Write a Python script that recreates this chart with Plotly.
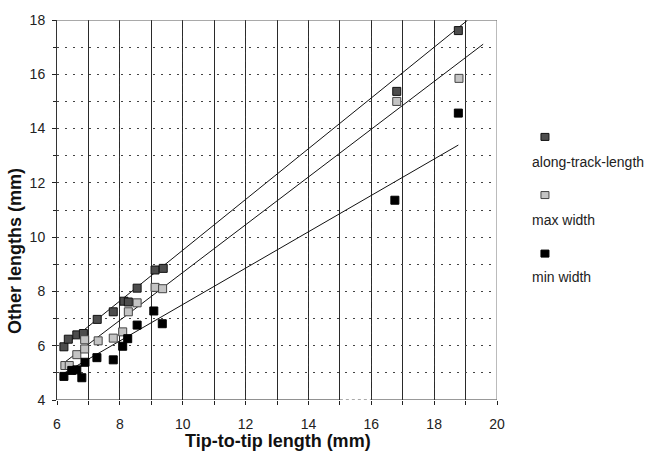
import numpy as np
import plotly.graph_objects as go

# Tip-to-tip length (mm) vs. other measured lengths (mm)
along_x = [6.22, 6.36, 6.63, 6.84, 7.28, 7.79, 8.13, 8.27, 8.55, 9.12, 9.38, 16.81, 18.77]
along_y = [5.96, 6.24, 6.40, 6.45, 6.97, 7.25, 7.64, 7.61, 8.12, 8.79, 8.85, 15.37, 17.61]

maxw_x = [6.25, 6.39, 6.63, 6.88, 6.88, 7.31, 7.79, 8.09, 8.27, 8.55, 9.12, 9.36, 16.81, 18.79]
maxw_y = [5.27, 5.27, 5.67, 5.88, 6.22, 6.18, 6.28, 6.51, 7.25, 7.58, 8.15, 8.10, 15.00, 15.85]

minw_x = [6.22, 6.47, 6.63, 6.79, 6.89, 7.27, 7.79, 8.09, 8.25, 8.55, 9.08, 9.35, 16.75, 18.77]
minw_y = [4.87, 5.09, 5.11, 4.82, 5.39, 5.56, 5.48, 5.98, 6.26, 6.76, 7.28, 6.81, 11.36, 14.57]

# Linear fits: slope, intercept and x extent of each fitted line
fit_slope = {"along": 0.935, "max": 0.880, "min": 0.670}
fit_intercept = {"along": 0.168, "max": -0.104, "min": 0.817}
fit_xrange = {"along": [6.12, 19.06], "max": [6.15, 19.56], "min": [6.20, 18.77]}

series_names = ["along-track-length", "max width", "min width"]
x_ticks = [6, 8, 10, 12, 14, 16, 18, 20]
y_ticks = [4, 6, 8, 10, 12, 14, 16, 18]

FONT = "Liberation Sans, Arial, Helvetica, sans-serif"
styles = {
    "along": dict(color="#4d4d4d", line=dict(color="#111111", width=1)),
    "max": dict(color="#c4c4c4", line=dict(color="#444444", width=1)),
    "min": dict(color="#000000", line=dict(color="#000000", width=1)),
}

fig = go.Figure()

# fitted lines (under the markers)
for key in ["along", "max", "min"]:
    xs = np.array(fit_xrange[key])
    ys = fit_slope[key] * xs + fit_intercept[key]
    fig.add_trace(go.Scatter(x=xs, y=ys, mode="lines",
                             line=dict(color="#111111", width=1),
                             showlegend=False, hoverinfo="skip"))

data = {"along": (along_x, along_y), "max": (maxw_x, maxw_y), "min": (minw_x, minw_y)}
for key, name in zip(["along", "max", "min"], series_names):
    xs, ys = data[key]
    fig.add_trace(go.Scatter(x=xs, y=ys, mode="markers", name=name,
                             marker=dict(symbol="square", size=8, **styles[key]),
                             showlegend=False))

grid_dash = "2px,6px"
fig.update_xaxes(
    range=[6, 20], tickvals=x_ticks, showgrid=True, gridcolor="#333333",
    griddash=grid_dash, gridwidth=1, zeroline=False, showline=False,
    ticks="outside", ticklen=4, tickcolor="#222222",
    tickfont=dict(family=FONT, size=14, color="#222222"), ticklabelstandoff=7,
    minor=dict(dtick=1, tick0=0, showgrid=True, gridcolor="#2a2a2a", gridwidth=1,
               griddash="solid", ticks="outside", ticklen=4, tickcolor="#222222"),
)
fig.update_yaxes(
    range=[4, 18], tickvals=y_ticks, showgrid=True, gridcolor="#444444",
    griddash=grid_dash, gridwidth=1, zeroline=False, showline=True,
    linecolor="#333333", linewidth=1,
    ticks="outside", ticklen=4, tickcolor="#222222",
    tickfont=dict(family=FONT, size=14, color="#222222"), ticklabelstandoff=4,
    minor=dict(dtick=1, tick0=0, showgrid=True, gridcolor="#444444",
               griddash=grid_dash, ticks="outside", ticklen=3, tickcolor="#222222"),
)

# frame: broken bottom axis between 15 and 16, solid top and right edges
frame = [
    dict(x0=6, x1=15, y0=4, y1=4, line=dict(color="#222222", width=1)),
    dict(x0=15, x1=16, y0=4, y1=4, line=dict(color="#555555", width=1, dash="dot")),
    dict(x0=16, x1=20, y0=4, y1=4, line=dict(color="#333333", width=1)),
    dict(x0=6, x1=20, y0=18, y1=18, line=dict(color="#555555", width=1)),
    dict(x0=20, x1=20, y0=4, y1=18, line=dict(color="#777777", width=1)),
]
for f in frame:
    fig.add_shape(type="line", xref="x", yref="y", layer="above", **f)

# legend: marker above its label
legend_marker_y = [0.691, 0.538, 0.384]
legend_text_y = [0.626, 0.473, 0.325]
for key, name, my, ty in zip(["along", "max", "min"], series_names,
                             legend_marker_y, legend_text_y):
    st = styles[key]
    fig.add_shape(type="rect", xref="paper", yref="paper",
                  xsizemode="pixel", ysizemode="pixel",
                  xanchor=1.109, yanchor=my, x0=-4, x1=4, y0=-3, y1=4,
                  fillcolor=st["color"], line=dict(color=st["line"]["color"], width=1))
    fig.add_annotation(x=1.075, y=ty, xref="paper", yref="paper", text=name,
                       showarrow=False, xanchor="left", yanchor="middle",
                       font=dict(family=FONT, size=14, color="#222222"))

# axis titles
fig.add_annotation(x=0.502, y=-0.109, xref="paper", yref="paper",
                   text="<b>Tip-to-tip length (mm)</b>", showarrow=False,
                   xanchor="center", yanchor="middle",
                   font=dict(family=FONT, size=18, color="#111111"))
fig.add_annotation(x=-0.0955, y=0.392, xref="paper", yref="paper",
                   text="<b>Other lengths (mm)</b>", showarrow=False, textangle=-90,
                   xanchor="center", yanchor="middle",
                   font=dict(family=FONT, size=18, color="#111111"))

fig.update_layout(
    width=649, height=456,
    margin=dict(l=57, r=152, t=15, b=56),
    plot_bgcolor="white", paper_bgcolor="white",
    showlegend=False,
)

fig.write_html("out.html")
